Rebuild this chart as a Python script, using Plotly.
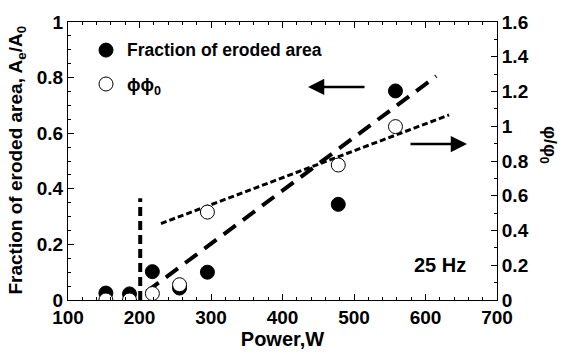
import plotly.graph_objects as go

# Data
power_frac = [153, 186, 218, 256, 295, 478, 558]
frac = [0.025, 0.022, 0.102, 0.043, 0.10, 0.344, 0.752]
power_phi = [153, 186, 218, 256, 295, 478, 558]
phi = [0.0, 0.0, 0.037, 0.088, 0.506, 0.777, 0.998]

thresh_x = [201, 201]
thresh_y = [0.0, 0.366]
frac_fit_x = [210, 615]
frac_fit_y = [0.03, 0.805]
phi_fit_x = [230, 633]
phi_fit_y = [0.44, 1.065]

FONT = "Liberation Sans, Arial, sans-serif"

fig = go.Figure()
fig.add_trace(go.Scatter(x=thresh_x, y=thresh_y, mode="lines",
                         line=dict(color="black", width=4, dash="9px,5px"), yaxis="y"))
fig.add_trace(go.Scatter(x=frac_fit_x, y=frac_fit_y, mode="lines",
                         line=dict(color="black", width=4, dash="15px,9px"), yaxis="y"))
fig.add_trace(go.Scatter(x=phi_fit_x, y=phi_fit_y, mode="lines",
                         line=dict(color="black", width=3, dash="6px,3px"), yaxis="y2"))
fig.add_trace(go.Scatter(x=power_frac, y=frac, mode="markers",
                         marker=dict(size=14, color="black", line=dict(color="black", width=1)), yaxis="y"))
fig.add_trace(go.Scatter(x=power_phi, y=phi, mode="markers",
                         marker=dict(size=14, color="white", line=dict(color="black", width=1)), yaxis="y2"))

tickfont = dict(family=FONT, size=19, color="black", weight="bold")

fig.update_layout(
    width=562, height=358,
    margin=dict(l=68, r=65, t=13, b=58),
    paper_bgcolor="white", plot_bgcolor="white",
    showlegend=False,
    xaxis=dict(range=[100, 700], dtick=100, ticks="inside", ticklen=6, tickwidth=1,
               tickcolor="black", showline=True, linecolor="black", linewidth=1,
               mirror="ticks", showgrid=False, zeroline=False, tickfont=tickfont,
               minor=dict(dtick=20, ticks="inside", ticklen=3, tickcolor="black"),
               title=dict(text="Power,W", font=dict(family=FONT, size=20, color="black", weight="bold"),
                          standoff=4)),
    yaxis=dict(range=[0, 1], dtick=0.2, ticks="inside", ticklen=6, tickcolor="black",
               showline=True, linecolor="black", linewidth=1, showgrid=False, zeroline=False,
               tickfont=tickfont,
               minor=dict(dtick=0.05, ticks="inside", ticklen=3, tickcolor="black")),
    yaxis2=dict(range=[0, 1.6], dtick=0.2, overlaying="y", side="right", ticks="inside",
                ticklen=6, tickcolor="black", showline=True, linecolor="black", linewidth=1,
                showgrid=False, zeroline=False, tickfont=tickfont,
                minor=dict(dtick=0.1, ticks="inside", ticklen=3, tickcolor="black")),
)

def px2paper(px, py):
    return (px - 68) / 429, (300 - py) / 287

# left axis title
xp, yp = px2paper(17, 156)
fig.add_annotation(text="Fraction of eroded area, A<sub>e</sub>/A<sub>0</sub>", xref="paper", yref="paper",
                   x=xp, y=yp, textangle=-90, showarrow=False, xanchor="center", yanchor="middle",
                   font=dict(family=FONT, size=19, color="black", weight="bold"))

# right axis title
xp, yp = px2paper(549, 140)
fig.add_annotation(text="φ/φ<sub>0</sub>", xref="paper", yref="paper",
                   x=xp, y=yp, textangle=90, showarrow=False, xanchor="center", yanchor="middle",
                   font=dict(family=FONT, size=18, color="black", weight="bold"))

# legend (manual)
for (cx, cy), fill in [((106, 42), "black"), ((106, 77), "white")]:
    xp, yp = px2paper(cx, cy)
    fig.add_shape(type="circle", xref="paper", yref="paper", xsizemode="pixel", ysizemode="pixel",
                  xanchor=xp, yanchor=yp, x0=-7, x1=7, y0=-7, y1=7,
                  fillcolor=fill, line=dict(color="black", width=1))

xp, yp = px2paper(125, 42)
fig.add_annotation(text="Fraction of eroded area", xref="paper", yref="paper", x=xp, y=yp,
                   xanchor="left", yanchor="middle", showarrow=False,
                   font=dict(family=FONT, size=17.5, color="black", weight="bold"))
xp, yp = px2paper(125, 80)
fig.add_annotation(text="ϕϕ<sub>0</sub>", xref="paper", yref="paper", x=xp, y=yp,
                   xanchor="left", yanchor="middle", showarrow=False,
                   font=dict(family=FONT, size=18, color="black", weight="bold"))

# arrows
for (hx, hy), (tx, ty) in [((308, 80), (366, 80)), ((467, 139), (409, 139))]:
    xp, yp = px2paper(hx, hy)
    fig.add_annotation(x=xp, y=yp, xref="paper", yref="paper", ax=tx - hx, ay=ty - hy,
                       axref="pixel", ayref="pixel", showarrow=True, arrowhead=2,
                       arrowsize=1.3, arrowwidth=2.5, arrowcolor="black", text="")

xp, yp = px2paper(440, 264)
fig.add_annotation(text="25 Hz", xref="paper", yref="paper", x=xp, y=yp, showarrow=False,
                   xanchor="center", yanchor="middle",
                   font=dict(family=FONT, size=20, color="black", weight="bold"))

fig.write_html("out.html")
